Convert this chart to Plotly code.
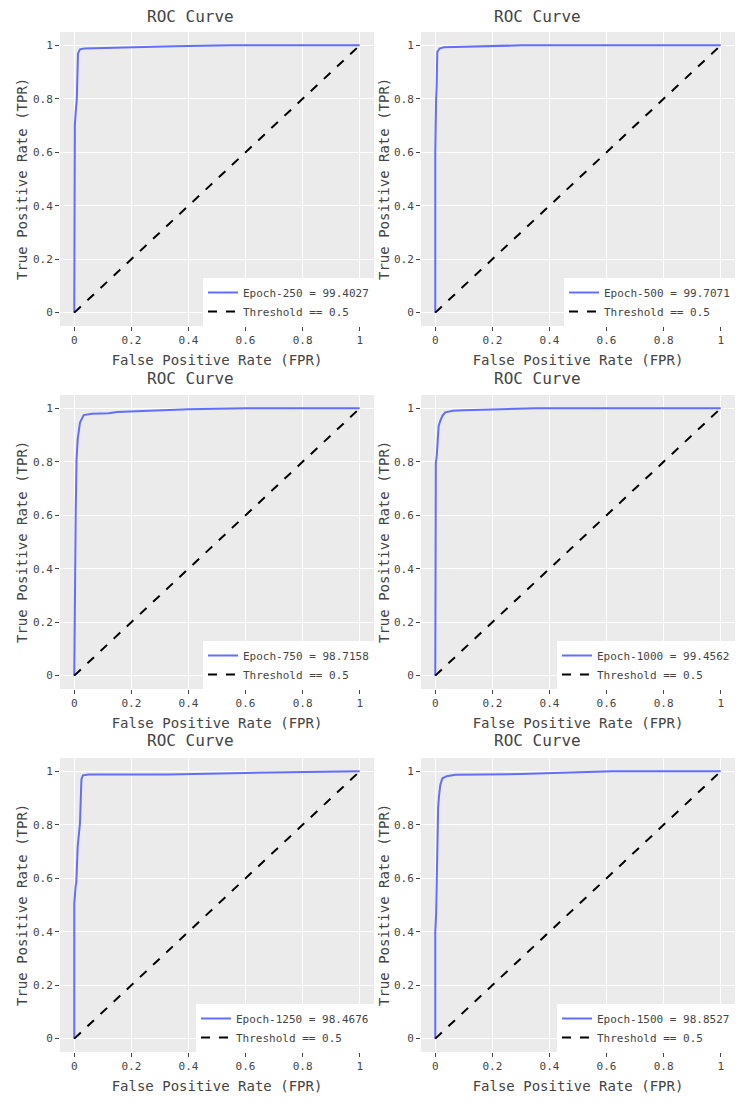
import plotly.graph_objects as go

# ---- data ----
epochs = [250, 500, 750, 1000, 1250, 1500]
auc_values = [99.4027, 99.7071, 98.7158, 99.4562, 98.4676, 98.8527]

fpr_250 = [0.0, 0.0, 0.002, 0.005, 0.009, 0.013, 0.02, 0.035, 0.1, 0.2, 0.35, 0.55, 1.0]
tpr_250 = [0.0, 0.6, 0.7, 0.75, 0.8, 0.97, 0.985, 0.988, 0.99, 0.993, 0.997, 1.0, 1.0]

fpr_500 = [0.0, 0.0, 0.003, 0.005, 0.007, 0.015, 0.03, 0.1, 0.3, 1.0]
tpr_500 = [0.0, 0.6, 0.8, 0.85, 0.975, 0.988, 0.993, 0.995, 1.0, 1.0]

fpr_750 = [0.0, 0.002, 0.005, 0.008, 0.012, 0.02, 0.033, 0.062, 0.12, 0.15, 0.25, 0.4, 0.6, 1.0]
tpr_750 = [0.0, 0.46, 0.61, 0.81, 0.885, 0.947, 0.975, 0.98, 0.982, 0.986, 0.99, 0.997, 1.0, 1.0]

fpr_1000 = [0.0, 0.0, 0.002, 0.005, 0.008, 0.012, 0.018, 0.025, 0.035, 0.062, 0.1, 0.3, 0.35, 1.0]
tpr_1000 = [0.0, 0.697, 0.797, 0.82, 0.885, 0.935, 0.954, 0.972, 0.985, 0.991, 0.993, 0.998, 1.0, 1.0]

fpr_1250 = [0.0, 0.0, 0.005, 0.007, 0.012, 0.02, 0.025, 0.03, 0.05, 0.33, 0.6, 0.92, 1.0]
tpr_1250 = [0.0, 0.505, 0.574, 0.58, 0.719, 0.806, 0.97, 0.985, 0.988, 0.988, 0.994, 1.0, 1.0]

fpr_1500 = [0.0, 0.0, 0.003, 0.006, 0.01, 0.013, 0.018, 0.025, 0.04, 0.07, 0.12, 0.3, 0.62, 1.0]
tpr_1500 = [0.0, 0.398, 0.467, 0.69, 0.863, 0.907, 0.951, 0.974, 0.982, 0.987, 0.988, 0.99, 1.0, 1.0]

threshold_x = [0, 1]
threshold_y = [0, 1]

curves = [(fpr_250, tpr_250), (fpr_500, tpr_500), (fpr_750, tpr_750),
          (fpr_1000, tpr_1000), (fpr_1250, tpr_1250), (fpr_1500, tpr_1500)]

# ---- layout geometry (pixels, page has an 8px body margin) ----
OFF = 8
W, H = 750 - OFF, 1103 - OFF
col_x = [(60 - OFF, 374 - OFF), (421 - OFF, 735 - OFF)]
row_y = [(32 - OFF, 326 - OFF), (395 - OFF, 689 - OFF), (758 - OFF, 1052 - OFF)]
title_cx = [190 - OFF, 537 - OFF]
title_cy = [17 - OFF, 378 - OFF, 740 - OFF]
ytitle_cx = [22 - OFF, 384 - OFF]

FONT = "DejaVu Sans Mono"
TXT = "rgb(68,68,68)"

fig = go.Figure()
layout = dict(
    width=W, height=H,
    margin=dict(l=0, r=0, t=0, b=0),
    paper_bgcolor="white",
    plot_bgcolor="rgb(235,235,235)",
    font=dict(family=FONT, color=TXT, size=11),
    annotations=[],
)

for i, (fx, ty) in enumerate(curves):
    r, c = divmod(i, 2)
    n = i + 1
    xa = "x" if n == 1 else f"x{n}"
    ya = "y" if n == 1 else f"y{n}"
    lg = "legend" if n == 1 else f"legend{n}"
    fig.add_trace(go.Scatter(
        x=fx, y=ty, mode="lines", xaxis=xa, yaxis=ya, legend=lg,
        name=f"Epoch-{epochs[i]} = {auc_values[i]:.4f}",
        line=dict(color="#636EFA", width=2)))
    fig.add_trace(go.Scatter(
        x=threshold_x, y=threshold_y, mode="lines", xaxis=xa, yaxis=ya, legend=lg,
        name="Threshold == 0.5",
        line=dict(color="black", width=2, dash="dash")))

    x0, x1 = col_x[c]
    y0, y1 = row_y[r]
    axcommon = dict(
        range=[-0.05, 1.05], dtick=0.2, tick0=0,
        showgrid=True, gridcolor="white", gridwidth=1,
        zeroline=False, showline=False,
        ticks="outside", ticklen=4, tickcolor=TXT, tickwidth=1,
        tickfont=dict(size=11, color=TXT, family=FONT),
    )
    layout["xaxis" if n == 1 else f"xaxis{n}"] = dict(
        axcommon, domain=[x0 / W, x1 / W], anchor=ya,
        title=dict(text="False Positive Rate (FPR)", font=dict(size=14, family=FONT, color=TXT), standoff=8),
    )
    layout["yaxis" if n == 1 else f"yaxis{n}"] = dict(
        axcommon, domain=[1 - y1 / H, 1 - y0 / H], anchor=xa,
    )
    layout[lg] = dict(
        x=x1 / W, y=1 - y1 / H, xanchor="right", yanchor="bottom",
        xref="paper", yref="paper",
        bgcolor="white", borderwidth=0,
        font=dict(size=11, family=FONT, color=TXT),
        tracegroupgap=0,
    )
    layout["annotations"].append(dict(
        text="ROC Curve", x=title_cx[c] / W, y=1 - title_cy[r] / H,
        xref="paper", yref="paper", xanchor="center", yanchor="middle",
        showarrow=False, font=dict(size=16, family=FONT, color=TXT)))
    layout["annotations"].append(dict(
        text="True Positive Rate (TPR)", textangle=-90,
        x=ytitle_cx[c] / W, y=1 - (y0 + y1) / 2 / H,
        xref="paper", yref="paper", xanchor="center", yanchor="middle",
        showarrow=False, font=dict(size=14, family=FONT, color=TXT)))

fig.update_layout(**layout)
fig.write_html("out.html")
